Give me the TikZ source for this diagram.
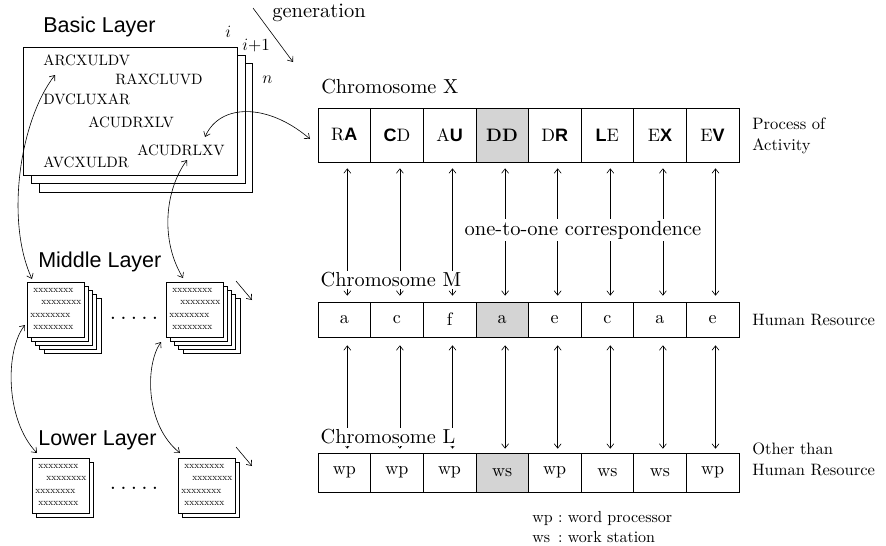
\documentclass[tikz,border=0pt]{standalone}
\usepackage{fontspec}
\setmainfont{lmroman10-regular.otf}[BoldFont=lmroman10-bold.otf, ItalicFont=lmroman10-italic.otf, BoldItalicFont=lmroman10-bolditalic.otf]
\newfontfamily\hv{Liberation Sans}
\usetikzlibrary{arrows.meta}
\newcommand\drawstack[4]{%
  \foreach \k in {#4,...,1} {\draw[pg] ({#2+4.2*\k},{#3+4*\k}) rectangle +(57,55);}
  \node[pg, anchor=north west, minimum width=57pt, minimum height=55pt, inner sep=0pt] (#1) at (#2,#3) {};
  \node[xs] at (#2+6,#3+8) {xxxxxxxx};
  \node[xs] at (#2+14,#3+20.5) {xxxxxxxx};
  \node[xs] at (#2+3,#3+33) {xxxxxxxx};
  \node[xs] at (#2+6,#3+45.5) {xxxxxxxx};
}
\begin{document}
\begin{tikzpicture}[x=1pt,y=-1pt, line width=0.6pt,
  >={Straight Barb[length=4.5pt,width=7pt]},
  pg/.style={draw, fill=white, line width=0.6pt},
  ptxt/.style={anchor=base west, inner sep=0pt, font=\fontsize{15}{18}\selectfont},
  xs/.style={anchor=west, inner sep=0pt, font=\fontsize{9.5}{10}\selectfont},
  ttl/.style={anchor=base west, inner sep=0pt, font=\hv\fontsize{21.5}{24}\selectfont},
  cellbase/.style={draw, minimum width=52.6pt, inner sep=0pt, font=\fontsize{18}{20}\selectfont},
  xcell/.style={cellbase, minimum height=54pt},
  mcell/.style={cellbase, minimum height=35pt},
  lcell/.style={cellbase, minimum height=39pt},
  hl/.style={fill=black!17},
  lbl/.style={font=\fontsize{16.5}{21}\selectfont, align=left, anchor=west, inner sep=0pt},
  chrom/.style={font=\fontsize{20.3}{24}\selectfont, fill=white, inner sep=1.5pt},
  mth/.style={anchor=base west, inner sep=0pt, font=\fontsize{17}{20}\selectfont},
]
\useasboundingbox (0,0) rectangle (886,546);

% ---------- Basic layer ----------
\node[ttl] (tb) at (43,32) {Basic Layer};
\draw[pg] (39,63) rectangle (252,192);
\draw[pg] (31,55) rectangle (245,183);
\node[pg, anchor=north west, minimum width=214pt, minimum height=128pt, inner sep=0pt] (basic) at (23,47) {};
\node[ptxt] (s1) at (43,65) {ARCXULDV};
\node[ptxt] (s2) at (115,84) {RAXCLUVD};
\node[ptxt] (s3) at (43,104) {DVCLUXAR};
\node[ptxt] (s4) at (88,127) {ACUDRXLV};
\node[ptxt] (s5) at (137,155) {ACUDRLXV};
\node[ptxt] (s6) at (43,167) {AVCXULDR};
\node[mth] (li) at (225,37) {$i$};
\node[mth] (li1) at (242,50) {$i$+1};
\node[mth] (ln) at (262,83) {$n$};

\node[anchor=base west, inner sep=0pt, font=\fontsize{20.5}{24}\selectfont] (gen) at (272,17) {generation};
\coordinate (g1) at (253,8);
\coordinate (g2) at (293,62);
\draw[->] (g1) -- (g2);

% ---------- Middle layer ----------
\node[ttl] (tm) at (38,267) {Middle Layer};
\drawstack{m1}{27}{282}{4}
\drawstack{m2}{166}{282}{4}
\node[font=\fontsize{15}{18}\selectfont\bfseries, inner sep=0pt] (dm) at (134,318) {.\ .\ .\ .\ .};
\coordinate (ma1) at (236,281);
\coordinate (ma2) at (252,300);
\draw[->] (ma1) -- (ma2);

% ---------- Lower layer ----------
\node[ttl] (tl) at (38,445) {Lower Layer};
\drawstack{l1}{32}{458}{1}
\drawstack{l2}{178}{458}{1}
\node[font=\fontsize{15}{18}\selectfont\bfseries, inner sep=0pt] (dl) at (134,488) {.\ .\ .\ .\ .};
\coordinate (la1) at (236,447);
\coordinate (la2) at (252,466);
\draw[->] (la1) -- (la2);

% ---------- curved links ----------
\coordinate (a1) at (55,75);   \coordinate (a2) at (32,279);
\draw[<->] (a1) .. controls (20,120) and (5,220) .. (a2);
\coordinate (b1) at (187,160); \coordinate (b2) at (183,278);
\draw[<->] (b1) .. controls (165,190) and (160,240) .. (b2);
\coordinate (c1) at (205,137); \coordinate (c2) at (310,139);
\draw[<->] (c1) .. controls (220,103) and (268,103) .. (c2);
\coordinate (d1) at (25,325);  \coordinate (d2) at (37,453);
\draw[<->] (d1) .. controls (5,350) and (5,420) .. (d2);
\coordinate (e1) at (161,342); \coordinate (e2) at (180,453);
\draw[<->] (e1) .. controls (145,365) and (145,425) .. (e2);

% ---------- Chromosome X ----------
\node[anchor=base west, inner sep=0pt, font=\fontsize{20.3}{24}\selectfont] (cX) at (321,93) {Chromosome X};
\node[xcell] (X1) at (344.3,135) {R{\hv\bfseries A}};
\node[xcell] (X2) at (396.9,135) {{\hv\bfseries C}D};
\node[xcell] (X3) at (449.5,135) {A{\hv\bfseries U}};
\node[xcell,hl] (X4) at (502.1,135) {\bfseries DD};
\node[xcell] (X5) at (554.7,135) {D{\hv\bfseries R}};
\node[xcell] (X6) at (607.3,135) {{\hv\bfseries L}E};
\node[xcell] (X7) at (659.9,135) {E{\hv\bfseries X}};
\node[xcell] (X8) at (712.5,135) {E{\hv\bfseries V}};

% ---------- Chromosome M ----------
\node[mcell] (M1) at (344.3,319.5) {a};
\node[mcell] (M2) at (396.9,319.5) {c};
\node[mcell] (M3) at (449.5,319.5) {f};
\node[mcell,hl] (M4) at (502.1,319.5) {a};
\node[mcell] (M5) at (554.7,319.5) {e};
\node[mcell] (M6) at (607.3,319.5) {c};
\node[mcell] (M7) at (659.9,319.5) {a};
\node[mcell] (M8) at (712.5,319.5) {e};

% ---------- Chromosome L ----------
\node[lcell] (L1) at (344.3,472.5) {wp};
\node[lcell] (L2) at (396.9,472.5) {wp};
\node[lcell] (L3) at (449.5,472.5) {wp};
\node[lcell,hl] (L4) at (502.1,472.5) {ws};
\node[lcell] (L5) at (554.7,472.5) {wp};
\node[lcell] (L6) at (607.3,472.5) {ws};
\node[lcell] (L7) at (659.9,472.5) {ws};
\node[lcell] (L8) at (712.5,472.5) {wp};

\foreach \i in {1,...,8} {
  \draw[<->, shorten <=6pt, shorten >=6pt] ([xshift=3pt]X\i.south) -- ([xshift=3pt]M\i.north);
  \draw[<->, shorten <=8pt, shorten >=4pt] ([xshift=3pt]M\i.south) -- ([xshift=3pt]L\i.north);
}

\node[chrom] (cM) at (391,280) {Chromosome M};
\node[chrom] (cL) at (388,437) {Chromosome L};
\node[font=\fontsize{20.5}{24}\selectfont, fill=white, inner sep=1.5pt] (oto) at (583,230) {one-to-one correspondence};

% ---------- right labels ----------
\node[lbl] (pa) at (752,136) {Process of\\Activity};
\node[lbl] (hr) at (752,320) {Human Resource};
\node[lbl] (oh) at (752,459) {Other than\\Human Resource};
\node[anchor=west, inner sep=0pt, font=\fontsize{16}{20}\selectfont] (leg) at (532,528)
  {\begin{tabular}{@{}l@{\ :\ }l@{}}wp & word processor\\ ws & work station\end{tabular}};
\end{tikzpicture}
\end{document}
